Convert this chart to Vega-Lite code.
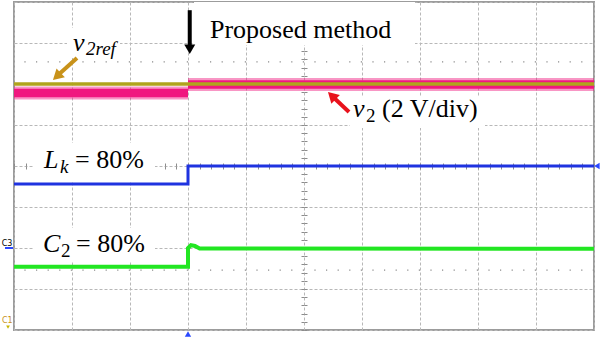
{
  "$schema": "https://vega.github.io/schema/vega-lite/v6.json",
  "width": 580,
  "height": 328,
  "autosize": {"type": "none"},
  "padding": {"left": 14, "top": 2, "right": 6, "bottom": 7},
  "background": "white",
  "config": {
    "view": {"stroke": "#9c9c9c", "strokeWidth": 2},
    "axis": {"labels": false, "ticks": false, "domain": false, "title": null, "grid": false, "zindex": 0}
  },
  "datasets": {
    "levels": [{"v": 2.54}, {"v": -2.54}],
    "boxes": [
      {"name": "proposed", "t": 3.103, "t2": 6.914, "v": 4.0, "v2": 2.951},
      {"name": "v2ref", "t": 0.914, "t2": 1.828, "v": 3.366, "v2": 2.634},
      {"name": "v2", "t": 5.793, "t2": 8.121, "v": 1.683, "v2": 0.927},
      {"name": "Lk", "t": 0.328, "t2": 2.431, "v": 0.561, "v2": -0.37},
      {"name": "C2", "t": 0.328, "t2": 2.431, "v": -1.512, "v2": -2.341}
    ],
    "traces": [
      {"series": "v2", "seg": "a", "i": 0, "t": 0, "v": 1.78},
      {"series": "v2", "seg": "a", "i": 1, "t": 3.0, "v": 1.78},
      {"series": "v2", "seg": "b", "i": 2, "t": 3.0, "v": 1.99},
      {"series": "v2", "seg": "b", "i": 3, "t": 10, "v": 1.99},
      {"series": "v2ref", "seg": "a", "i": 0, "t": 0, "v": 2.0},
      {"series": "v2ref", "seg": "a", "i": 1, "t": 10, "v": 2.0},
      {"series": "Lk", "seg": "a", "i": 0, "t": 0, "v": -0.44},
      {"series": "Lk", "seg": "a", "i": 1, "t": 3.0, "v": -0.44},
      {"series": "Lk", "seg": "a", "i": 2, "t": 3.0, "v": 0.0},
      {"series": "Lk", "seg": "a", "i": 3, "t": 10, "v": 0.0},
      {"series": "C2", "seg": "a", "i": 0, "t": 0, "v": -2.46},
      {"series": "C2", "seg": "a", "i": 1, "t": 3.0, "v": -2.46},
      {"series": "C2", "seg": "a", "i": 2, "t": 3.0, "v": -2.0},
      {"series": "C2", "seg": "a", "i": 3, "t": 3.05, "v": -1.93},
      {"series": "C2", "seg": "a", "i": 4, "t": 3.12, "v": -1.95},
      {"series": "C2", "seg": "a", "i": 5, "t": 3.2, "v": -2.01},
      {"series": "C2", "seg": "a", "i": 6, "t": 10, "v": -2.02}
    ],
    "arrows": [
      {"name": "proposed", "t": 3.03, "v": 3.8, "t2": 3.03, "v2": 2.95},
      {"name": "v2ref", "t": 1.086, "v": 2.634, "t2": 0.741, "v2": 2.195},
      {"name": "v2", "t": 5.776, "v": 1.317, "t2": 5.483, "v2": 1.707}
    ],
    "heads": [
      {"name": "proposed", "t": 3.03, "v": 2.85},
      {"name": "v2ref", "t": 0.738, "v": 2.183},
      {"name": "v2", "t": 5.479, "v": 1.717}
    ],
    "labels": [
      {"style": "main", "text": "Proposed method", "t": 3.379, "v": 3.122},
      {"style": "main", "text": "(2 V/div)", "t": 6.345, "v": 1.195},
      {"style": "main", "text": "= 80%", "t": 1.052, "v": -0.049},
      {"style": "main", "text": "= 80%", "t": 1.069, "v": -2.098},
      {"style": "italic", "text": "v", "t": 1.017, "v": 2.805},
      {"style": "italic", "text": "v", "t": 5.845, "v": 1.195},
      {"style": "italic", "text": "L", "t": 0.517, "v": -0.049},
      {"style": "italic", "text": "C", "t": 0.5, "v": -2.098},
      {"style": "sub", "text": "2", "t": 6.069, "v": 1.073},
      {"style": "sub", "text": "2", "t": 0.81, "v": -2.22},
      {"style": "subitalic", "text": "2ref", "t": 1.241, "v": 2.707},
      {"style": "subitalic", "text": "k", "t": 0.793, "v": -0.171}
    ],
    "markers": [
      {"name": "trigger", "t": 3.0, "v": -4.1},
      {"name": "level", "t": 10.05, "v": 0.0},
      {"name": "ch1", "t": -0.103, "v": -3.93}
    ],
    "chlabels": [
      {"name": "C3", "text": "C3", "t": -0.12, "v": -1.9},
      {"name": "C1", "text": "C1", "t": -0.115, "v": -3.77}
    ],
    "chbars": [
      {"name": "C3", "t": -0.155, "t2": -0.017, "v": -2.0}
    ]
  },
  "resolve": {"axis": {"x": "independent", "y": "independent"}},
  "layer": [
    {
      "data": {"name": "levels"},
      "mark": {"type": "rule", "color": "#8a8a8a", "strokeWidth": 1.2, "strokeDash": [1.2, 10.4]},
      "encoding": {
        "y": {"field": "v", "type": "quantitative", "scale": {"domain": [-4, 4], "nice": false, "zero": false}, "axis": null}
      }
    },
    {
      "data": {"name": "boxes"},
      "mark": {"type": "rect", "fill": "white"},
      "encoding": {
        "x": {"field": "t", "type": "quantitative", "scale": {"domain": [0, 10], "nice": false, "zero": false},
              "axis": {"orient": "bottom", "grid": true, "values": [0,1,2,3,4,5,6,7,8,9,10], "gridColor": "#b8b8b8", "gridDash": [3, 2], "gridWidth": 1}},
        "x2": {"field": "t2"},
        "y": {"field": "v", "type": "quantitative", "scale": {"domain": [-4, 4], "nice": false, "zero": false},
              "axis": {"orient": "left", "grid": true, "values": [-4,-3,-2,-1,0,1,2,3,4], "gridColor": "#b8b8b8", "gridDash": [3, 2], "gridWidth": 1}},
        "y2": {"field": "v2"}
      }
    },
    {
      "data": {"name": "traces"},
      "transform": [{"filter": "datum.series === 'v2'"}],
      "mark": {"type": "line", "color": "#f0177f", "strokeWidth": 13, "opacity": 0.45, "strokeCap": "butt"},
      "encoding": {
        "x": {"field": "t", "type": "quantitative", "scale": {"domain": [0, 10], "nice": false, "zero": false},
              "axis": {"orient": "top", "offset": -164, "ticks": true, "tickSize": 3, "tickColor": "#8c8c8c", "tickWidth": 1,
                       "values": [0,0.2,0.4,0.6,0.8,1,1.2,1.4,1.6,1.8,2,2.2,2.4,2.6,2.8,3,3.2,3.4,3.6,3.8,4,4.2,4.4,4.6,4.8,5,5.2,5.4,5.6,5.8,6,6.2,6.4,6.6,6.8,7,7.2,7.4,7.6,7.8,8,8.2,8.4,8.6,8.8,9,9.2,9.4,9.6,9.8,10]}},
        "y": {"field": "v", "type": "quantitative", "scale": {"domain": [-4, 4], "nice": false, "zero": false},
              "axis": {"orient": "left", "offset": -290, "ticks": true, "tickSize": 3, "tickColor": "#8c8c8c", "tickWidth": 1,
                       "values": [-4,-3.8,-3.6,-3.4,-3.2,-3,-2.8,-2.6,-2.4,-2.2,-2,-1.8,-1.6,-1.4,-1.2,-1,-0.8,-0.6,-0.4,-0.2,0,0.2,0.4,0.6,0.8,1,1.2,1.4,1.6,1.8,2,2.2,2.4,2.6,2.8,3,3.2,3.4,3.6,3.8,4]}},
        "detail": {"field": "seg", "type": "nominal"},
        "order": {"field": "i", "type": "quantitative"}
      }
    },
    {
      "data": {"name": "traces"},
      "transform": [{"filter": "datum.series === 'v2'"}],
      "mark": {"type": "line", "color": "#f0177f", "strokeWidth": 8.5, "strokeCap": "butt"},
      "encoding": {
        "x": {"field": "t", "type": "quantitative", "scale": {"domain": [0, 10], "nice": false, "zero": false}, "axis": null},
        "y": {"field": "v", "type": "quantitative", "scale": {"domain": [-4, 4], "nice": false, "zero": false}, "axis": null},
        "detail": {"field": "seg", "type": "nominal"},
        "order": {"field": "i", "type": "quantitative"}
      }
    },
    {
      "data": {"name": "traces"},
      "transform": [{"filter": "datum.series === 'v2ref'"}],
      "mark": {"type": "line", "color": "#b0a41c", "strokeWidth": 3.5},
      "encoding": {
        "x": {"field": "t", "type": "quantitative", "scale": {"domain": [0, 10], "nice": false, "zero": false},
              "axis": {"orient": "bottom", "offset": -164, "ticks": true, "tickSize": 3, "tickColor": "#8c8c8c", "tickWidth": 1,
                       "values": [0,0.2,0.4,0.6,0.8,1,1.2,1.4,1.6,1.8,2,2.2,2.4,2.6,2.8,3,3.2,3.4,3.6,3.8,4,4.2,4.4,4.6,4.8,5,5.2,5.4,5.6,5.8,6,6.2,6.4,6.6,6.8,7,7.2,7.4,7.6,7.8,8,8.2,8.4,8.6,8.8,9,9.2,9.4,9.6,9.8,10]}},
        "y": {"field": "v", "type": "quantitative", "scale": {"domain": [-4, 4], "nice": false, "zero": false},
              "axis": {"orient": "right", "offset": -290, "ticks": true, "tickSize": 3, "tickColor": "#8c8c8c", "tickWidth": 1,
                       "values": [-4,-3.8,-3.6,-3.4,-3.2,-3,-2.8,-2.6,-2.4,-2.2,-2,-1.8,-1.6,-1.4,-1.2,-1,-0.8,-0.6,-0.4,-0.2,0,0.2,0.4,0.6,0.8,1,1.2,1.4,1.6,1.8,2,2.2,2.4,2.6,2.8,3,3.2,3.4,3.6,3.8,4]}},
        "order": {"field": "i", "type": "quantitative"}
      }
    },
    {
      "data": {"name": "traces"},
      "transform": [{"filter": "datum.series === 'Lk'"}],
      "mark": {"type": "line", "color": "#1f33e0", "strokeWidth": 3, "strokeJoin": "miter"},
      "encoding": {
        "x": {"field": "t", "type": "quantitative", "scale": {"domain": [0, 10], "nice": false, "zero": false}, "axis": null},
        "y": {"field": "v", "type": "quantitative", "scale": {"domain": [-4, 4], "nice": false, "zero": false}, "axis": null},
        "order": {"field": "i", "type": "quantitative"}
      }
    },
    {
      "data": {"name": "traces"},
      "transform": [{"filter": "datum.series === 'C2'"}],
      "mark": {"type": "line", "color": "#22e622", "strokeWidth": 4, "strokeJoin": "miter"},
      "encoding": {
        "x": {"field": "t", "type": "quantitative", "scale": {"domain": [0, 10], "nice": false, "zero": false}, "axis": null},
        "y": {"field": "v", "type": "quantitative", "scale": {"domain": [-4, 4], "nice": false, "zero": false}, "axis": null},
        "order": {"field": "i", "type": "quantitative"}
      }
    },
    {
      "data": {"name": "arrows"},
      "mark": {"type": "rule", "strokeWidth": 4},
      "encoding": {
        "x": {"field": "t", "type": "quantitative", "scale": {"domain": [0, 10], "nice": false, "zero": false}, "axis": null},
        "x2": {"field": "t2"},
        "y": {"field": "v", "type": "quantitative", "scale": {"domain": [-4, 4], "nice": false, "zero": false}, "axis": null},
        "y2": {"field": "v2"},
        "color": {"field": "name", "type": "nominal", "scale": {"domain": ["proposed", "v2ref", "v2"], "range": ["#000000", "#c8921a", "#e8121c"]}, "legend": null}
      }
    },
    {
      "data": {"name": "heads"},
      "transform": [{"filter": "datum.name === 'proposed'"}],
      "mark": {"type": "point", "shape": "triangle-down", "size": 121, "filled": true, "color": "#000000", "opacity": 1},
      "encoding": {
        "x": {"field": "t", "type": "quantitative", "scale": {"domain": [0, 10], "nice": false, "zero": false}, "axis": null},
        "y": {"field": "v", "type": "quantitative", "scale": {"domain": [-4, 4], "nice": false, "zero": false}, "axis": null}
      }
    },
    {
      "data": {"name": "heads"},
      "transform": [{"filter": "datum.name === 'v2ref'"}],
      "mark": {"type": "point", "shape": "triangle-up", "size": 150, "filled": true, "color": "#c8921a", "opacity": 1, "angle": 227},
      "encoding": {
        "x": {"field": "t", "type": "quantitative", "scale": {"domain": [0, 10], "nice": false, "zero": false}, "axis": null},
        "y": {"field": "v", "type": "quantitative", "scale": {"domain": [-4, 4], "nice": false, "zero": false}, "axis": null}
      }
    },
    {
      "data": {"name": "heads"},
      "transform": [{"filter": "datum.name === 'v2'"}],
      "mark": {"type": "point", "shape": "triangle-up", "size": 150, "filled": true, "color": "#e8121c", "opacity": 1, "angle": 314},
      "encoding": {
        "x": {"field": "t", "type": "quantitative", "scale": {"domain": [0, 10], "nice": false, "zero": false}, "axis": null},
        "y": {"field": "v", "type": "quantitative", "scale": {"domain": [-4, 4], "nice": false, "zero": false}, "axis": null}
      }
    },
    {
      "data": {"name": "labels"},
      "transform": [{"filter": "datum.style === 'main'"}],
      "mark": {"type": "text", "font": "Liberation Serif", "fontSize": 26, "align": "left", "baseline": "alphabetic", "color": "#000000"},
      "encoding": {
        "x": {"field": "t", "type": "quantitative", "scale": {"domain": [0, 10], "nice": false, "zero": false}, "axis": null},
        "y": {"field": "v", "type": "quantitative", "scale": {"domain": [-4, 4], "nice": false, "zero": false}, "axis": null},
        "text": {"field": "text"}
      }
    },
    {
      "data": {"name": "labels"},
      "transform": [{"filter": "datum.style === 'italic'"}],
      "mark": {"type": "text", "font": "Liberation Serif", "fontSize": 26, "fontStyle": "italic", "align": "left", "baseline": "alphabetic", "color": "#000000"},
      "encoding": {
        "x": {"field": "t", "type": "quantitative", "scale": {"domain": [0, 10], "nice": false, "zero": false}, "axis": null},
        "y": {"field": "v", "type": "quantitative", "scale": {"domain": [-4, 4], "nice": false, "zero": false}, "axis": null},
        "text": {"field": "text"}
      }
    },
    {
      "data": {"name": "labels"},
      "transform": [{"filter": "datum.style === 'sub'"}],
      "mark": {"type": "text", "font": "Liberation Serif", "fontSize": 19, "align": "left", "baseline": "alphabetic", "color": "#000000"},
      "encoding": {
        "x": {"field": "t", "type": "quantitative", "scale": {"domain": [0, 10], "nice": false, "zero": false}, "axis": null},
        "y": {"field": "v", "type": "quantitative", "scale": {"domain": [-4, 4], "nice": false, "zero": false}, "axis": null},
        "text": {"field": "text"}
      }
    },
    {
      "data": {"name": "labels"},
      "transform": [{"filter": "datum.style === 'subitalic'"}],
      "mark": {"type": "text", "font": "Liberation Serif", "fontSize": 19, "fontStyle": "italic", "align": "left", "baseline": "alphabetic", "color": "#000000"},
      "encoding": {
        "x": {"field": "t", "type": "quantitative", "scale": {"domain": [0, 10], "nice": false, "zero": false}, "axis": null},
        "y": {"field": "v", "type": "quantitative", "scale": {"domain": [-4, 4], "nice": false, "zero": false}, "axis": null},
        "text": {"field": "text"}
      }
    },
    {
      "data": {"name": "markers"},
      "transform": [{"filter": "datum.name === 'trigger'"}],
      "mark": {"type": "point", "shape": "triangle-up", "size": 40, "filled": true, "color": "#2a48ff", "opacity": 1},
      "encoding": {
        "x": {"field": "t", "type": "quantitative", "scale": {"domain": [0, 10], "nice": false, "zero": false}, "axis": null},
        "y": {"field": "v", "type": "quantitative", "scale": {"domain": [-4, 4], "nice": false, "zero": false}, "axis": null}
      }
    },
    {
      "data": {"name": "markers"},
      "transform": [{"filter": "datum.name === 'level'"}],
      "mark": {"type": "point", "shape": "triangle-left", "size": 40, "filled": true, "color": "#2a48ff", "opacity": 1},
      "encoding": {
        "x": {"field": "t", "type": "quantitative", "scale": {"domain": [0, 10], "nice": false, "zero": false}, "axis": null},
        "y": {"field": "v", "type": "quantitative", "scale": {"domain": [-4, 4], "nice": false, "zero": false}, "axis": null}
      }
    },
    {
      "data": {"name": "markers"},
      "transform": [{"filter": "datum.name === 'ch1'"}],
      "mark": {"type": "point", "shape": "triangle-down", "size": 14, "filled": true, "color": "#c8b400", "opacity": 1},
      "encoding": {
        "x": {"field": "t", "type": "quantitative", "scale": {"domain": [0, 10], "nice": false, "zero": false}, "axis": null},
        "y": {"field": "v", "type": "quantitative", "scale": {"domain": [-4, 4], "nice": false, "zero": false}, "axis": null}
      }
    },
    {
      "data": {"name": "chlabels"},
      "mark": {"type": "text", "font": "DejaVu Sans", "fontSize": 8, "align": "center", "baseline": "middle"},
      "encoding": {
        "x": {"field": "t", "type": "quantitative", "scale": {"domain": [0, 10], "nice": false, "zero": false}, "axis": null},
        "y": {"field": "v", "type": "quantitative", "scale": {"domain": [-4, 4], "nice": false, "zero": false}, "axis": null},
        "text": {"field": "text"},
        "color": {"field": "name", "type": "nominal", "scale": {"domain": ["C3", "C1"], "range": ["#2a48ff", "#c8b400"]}, "legend": null}
      }
    },
    {
      "data": {"name": "chbars"},
      "mark": {"type": "rule", "color": "#2a48ff", "strokeWidth": 2},
      "encoding": {
        "x": {"field": "t", "type": "quantitative", "scale": {"domain": [0, 10], "nice": false, "zero": false}, "axis": null},
        "x2": {"field": "t2"},
        "y": {"field": "v", "type": "quantitative", "scale": {"domain": [-4, 4], "nice": false, "zero": false}, "axis": null}
      }
    }
  ]
}
